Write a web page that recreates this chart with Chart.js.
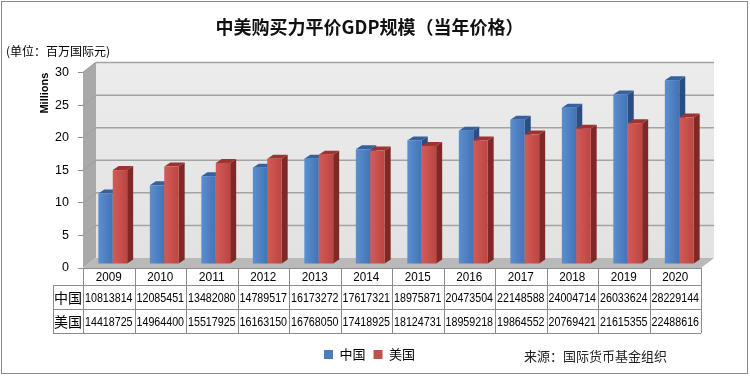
<!DOCTYPE html>
<html>
<head>
<meta charset="utf-8">
<script src="https://cdn.jsdelivr.net/npm/chart.js@4.4.1/dist/chart.umd.min.js"></script>
<style>
  html, body { margin: 0; padding: 0; background: #fff; }
  canvas { display: block; }
</style>
</head>
<body>
<canvas id="myChart" width="750" height="377"></canvas>
<script>
// data: 百万国际元
const years = ["2009", "2010", "2011", "2012", "2013", "2014", "2015", "2016", "2017", "2018", "2019", "2020"];
const china = [10813814, 12085451, 13482080, 14789517, 16173272, 17617321, 18975871, 20473504, 22148588, 24004714, 26033624, 28229144];
const usa = [14418725, 14964400, 15517925, 16163150, 16768050, 17418925, 18124731, 18959218, 19864552, 20769421, 21615355, 22488616];
const seriesNames = ["中国", "美国"];
const yTicks = [0, 5, 10, 15, 20, 25, 30];

const FONT = "'Liberation Sans', 'Noto Sans CJK SC', sans-serif";
const CJK = "'Noto Sans CJK SC', 'Liberation Sans', sans-serif";

// depth of the box and of the bars
const DX = 13, DY = -10;
const BX = 4, BY = -4, DDX = 6, DDY = -4;

const palettes = [
    { light: "#5b8fd0", front: "#4373b5", top: "#36619e", side: "#2b4e82" },
    { light: "#d25b58", front: "#bd4541", top: "#9e3431", side: "#7f2825" },
];

function drawBar(ctx, el, pal) {
    const w = el.width;
    const x0 = el.x - w / 2 + BX, x1 = el.x + w / 2 + BX;
    const top = el.y + BY, bot = el.base + BY;
    ctx.fillStyle = pal.side;
    ctx.beginPath();
    ctx.moveTo(x1, bot);
    ctx.lineTo(x1 + DDX, bot + DDY);
    ctx.lineTo(x1 + DDX, top + DDY);
    ctx.lineTo(x1, top);
    ctx.closePath();
    ctx.fill();
    ctx.fillStyle = pal.top;
    ctx.beginPath();
    ctx.moveTo(x0, top);
    ctx.lineTo(x0 + DDX, top + DDY);
    ctx.lineTo(x1 + DDX, top + DDY);
    ctx.lineTo(x1, top);
    ctx.closePath();
    ctx.fill();
    const g = ctx.createLinearGradient(x0, 0, x1, 0);
    g.addColorStop(0, pal.light);
    g.addColorStop(1, pal.front);
    ctx.fillStyle = g;
    ctx.fillRect(x0, top, x1 - x0, bot - top);
}

// condensed text: squeeze horizontally when wider than the cell
function cellText(ctx, txt, cx, cy, maxW) {
    const w = ctx.measureText(txt).width;
    const sx = Math.min(1, maxW / w);
    ctx.save();
    ctx.translate(cx, cy);
    ctx.scale(sx, 1);
    ctx.fillText(txt, 0, 0);
    ctx.restore();
}

const threeD = {
    id: "threeD",
    beforeDatasetsDraw(chart) {
        const { ctx, chartArea: a, scales } = chart;
        const y = scales.y;
        ctx.save();
        // back wall
        const bg = ctx.createLinearGradient(0, a.top + DY, 0, a.bottom + DY);
        bg.addColorStop(0, "#ececec");
        bg.addColorStop(1, "#e2e2e2");
        ctx.fillStyle = bg;
        ctx.fillRect(a.left + DX, a.top + DY, a.right - a.left, a.bottom - a.top);
        // left wall
        ctx.fillStyle = "#a9a9a9";
        ctx.beginPath();
        ctx.moveTo(a.left, a.top);
        ctx.lineTo(a.left + DX, a.top + DY);
        ctx.lineTo(a.left + DX, a.bottom + DY);
        ctx.lineTo(a.left, a.bottom);
        ctx.closePath();
        ctx.fill();
        // floor
        ctx.fillStyle = "#b9b9b9";
        ctx.beginPath();
        ctx.moveTo(a.left, a.bottom);
        ctx.lineTo(a.left + DX, a.bottom + DY);
        ctx.lineTo(a.right + DX, a.bottom + DY);
        ctx.lineTo(a.right, a.bottom);
        ctx.closePath();
        ctx.fill();
        // grid lines on the walls
        ctx.strokeStyle = "#a3a3a3";
        ctx.lineWidth = 1.5;
        yTicks.forEach((v) => {
            if (v === 0) return;
            const py = y.getPixelForValue(v);
            ctx.beginPath();
            ctx.moveTo(a.left, py);
            ctx.lineTo(a.left + DX, py + DY);
            ctx.lineTo(a.right + DX, py + DY);
            ctx.stroke();
        });
        // bars
        const metas = [chart.getDatasetMeta(0), chart.getDatasetMeta(1)];
        for (let i = 0; i < years.length; i++) {
            metas.forEach((m, di) => drawBar(ctx, m.data[i], palettes[di]));
        }
        ctx.restore();
        return false;
    },
    afterDraw(chart) {
        const { ctx, chartArea: a, scales } = chart;
        const x = scales.x;
        const cw = (a.right - a.left) / years.length;
        const rows = [a.bottom, 285, 309, 333];
        const left = 53;
        ctx.save();
        ctx.strokeStyle = "#8c8c8c";
        ctx.lineWidth = 1;
        // horizontal lines
        ctx.beginPath();
        ctx.moveTo(a.left, rows[0] + 0.5);
        ctx.lineTo(a.right, rows[0] + 0.5);
        for (let r = 1; r < rows.length; r++) {
            ctx.moveTo(left, rows[r] + 0.5);
            ctx.lineTo(a.right, rows[r] + 0.5);
        }
        // vertical lines
        ctx.moveTo(left + 0.5, rows[1]);
        ctx.lineTo(left + 0.5, rows[3]);
        for (let i = 0; i <= years.length; i++) {
            const px = Math.round(a.left + i * cw) + 0.5;
            ctx.moveTo(px, rows[0]);
            ctx.lineTo(px, rows[3]);
        }
        ctx.stroke();

        ctx.fillStyle = "#000";
        ctx.textAlign = "center";
        ctx.textBaseline = "middle";
        ctx.font = "13.5px " + FONT;
        years.forEach((yr, i) => {
            const cx = x.getPixelForValue(i);
            cellText(ctx, yr, cx, (rows[0] + rows[1]) / 2 + 1, 26);
            cellText(ctx, String(china[i]), cx, (rows[1] + rows[2]) / 2 + 1, cw - 4);
            cellText(ctx, String(usa[i]), cx, (rows[2] + rows[3]) / 2 + 1, cw - 4);
        });
        ctx.font = "14px " + CJK;
        ctx.fillText(seriesNames[0], (left + a.left) / 2, (rows[1] + rows[2]) / 2 + 1);
        ctx.fillText(seriesNames[1], (left + a.left) / 2, (rows[2] + rows[3]) / 2 + 1);

        // unit and source
        ctx.textAlign = "left";
        ctx.font = "12px " + CJK;
        ctx.fillText("(单位：百万国际元)", 6, 51);
        ctx.font = "13px " + CJK;
        ctx.fillStyle = "#222";
        ctx.fillText("来源：国际货币基金组织", 524, 356);

        // frame
        ctx.strokeStyle = "#8a8a8a";
        ctx.strokeRect(1.5, 1.5, 746, 372);
        ctx.restore();
    },
};

const ctx = document.getElementById("myChart");
new Chart(ctx, {
    type: "bar",
    data: {
        labels: years,
        datasets: [
            {
                label: seriesNames[0],
                data: china.map((v) => v / 1e6),
                backgroundColor: "#4a7ebb",
                borderWidth: 0,
            },
            {
                label: seriesNames[1],
                data: usa.map((v) => v / 1e6),
                backgroundColor: "#c0504d",
                borderWidth: 0,
            },
        ],
    },
    options: {
        responsive: false,
        devicePixelRatio: 1,
        animation: false,
        events: [],
        categoryPercentage: 0.56,
        barPercentage: 1,
        layout: { padding: { left: 38, right: 49, top: 0, bottom: 6 } },
        scales: {
            x: {
                display: true,
                grid: { display: false },
                border: { display: false },
                ticks: { display: false },
                afterFit: (axis) => { axis.height = 72; },
            },
            y: {
                min: 0,
                max: 30,
                ticks: {
                    stepSize: 5,
                    padding: 9,
                    color: "#000",
                    font: { family: FONT, size: 12.5 },
                },
                grid: { drawOnChartArea: false, drawTicks: true, tickLength: 5, color: "#8c8c8c" },
                border: { display: false },
                title: {
                    display: true,
                    text: "Millions",
                    align: "end",
                    color: "#000",
                    font: { family: FONT, size: 11, weight: "bold" },
                    padding: { top: 0, bottom: 0 },
                },
                afterFit: (axis) => { axis.width = 45; },
            },
        },
        plugins: {
            title: {
                display: true,
                text: "中美购买力平价GDP规模（当年价格）",
                color: "#111",
                font: { family: CJK, size: 18, weight: "bold", lineHeight: 1.2 },
                padding: { top: 16, bottom: 35 },
            },
            legend: {
                position: "bottom",
                labels: {
                    boxWidth: 9,
                    boxHeight: 9,
                    padding: 8,
                    color: "#000",
                    font: { family: CJK, size: 13 },
                },
            },
            tooltip: { enabled: false },
        },
    },
    plugins: [threeD],
});
</script>
</body>
</html>
